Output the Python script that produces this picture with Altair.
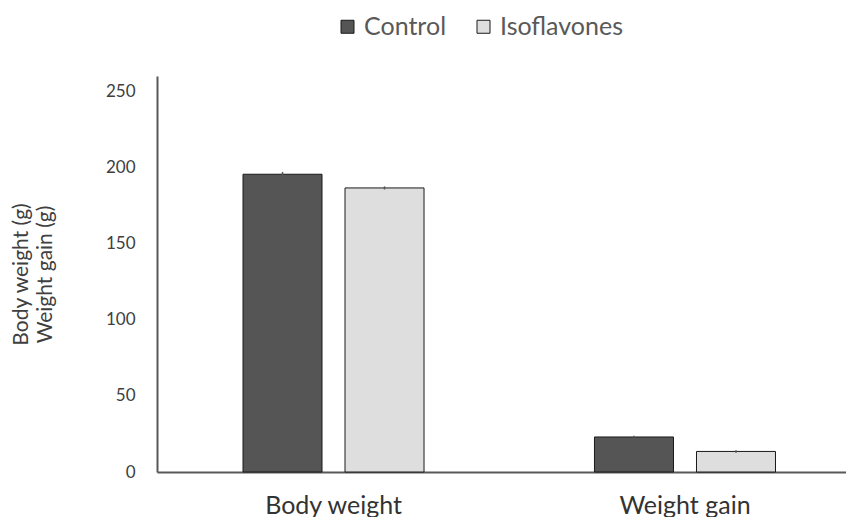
import altair as alt
import pandas as pd

categories = ["Body weight", "Body weight", "Weight gain", "Weight gain"]
groups = ["Control", "Isoflavones", "Control", "Isoflavones"]
values = [195.5, 186.5, 23.0, 13.5]
errors = [1.5, 1.0, 0.8, 0.8]
y_ticks = [0, 50, 100, 150, 200, 250]

df = pd.DataFrame({
    "category": categories,
    "group": groups,
    "value": values,
    "low": [v - e for v, e in zip(values, errors)],
    "high": [v + e for v, e in zip(values, errors)],
})

FONT = "Lato"
xenc = alt.X("category:N", title=None,
             scale=alt.Scale(range=[0, 704.5], paddingInner=0.485, paddingOuter=0.2447),
             axis=alt.Axis(labelAngle=0, labelFontSize=25, labelColor="#333333",
                           labelPadding=21, ticks=False, domainColor="#595959",
                           domainWidth=2, labelFont=FONT))
xoff = alt.XOffset("group:N", scale=alt.Scale(paddingInner=0.2255, paddingOuter=0))

bars = alt.Chart(df).mark_bar(stroke="#1a1a1a", strokeWidth=1).encode(
    x=xenc,
    xOffset=xoff,
    y=alt.Y("value:Q", title=["Body weight (g)", "Weight gain (g)"],
            scale=alt.Scale(domain=[0, 250]),
            axis=alt.Axis(values=y_ticks, ticks=False,
                          grid=False, labelFontSize=17, labelColor="#404040",
                          labelPadding=22, domainColor="#595959", domainWidth=2,
                          titleFontSize=21, titleFontWeight="normal",
                          titleColor="#404040", titlePadding=50, titleLineHeight=24,
                          labelFont=FONT, titleFont=FONT)),
    fill=alt.Fill("group:N", title=None,
                  scale=alt.Scale(domain=["Control", "Isoflavones"],
                                  range=["#555555", "#dedede"]),
                  legend=alt.Legend(orient="none", legendX=178, legendY=-62,
                                    direction="horizontal",
                                    symbolType="square", symbolSize=169,
                                    symbolStrokeColor="#1a1a1a", symbolStrokeWidth=1,
                                    labelFontSize=25, labelColor="#595959",
                                    labelFont=FONT, columnPadding=24, labelOffset=4)),
)

err = alt.Chart(df).mark_rule(color="#555555", strokeWidth=1.5).encode(
    x=alt.X("category:N"),
    xOffset=xoff,
    y="low:Q",
    y2="high:Q",
)

chart = alt.layer(bars, err).properties(
    width=689, height=396,
    autosize=alt.AutoSizeParams(type="none"),
    padding={"left": 149, "top": 68, "right": 0, "bottom": 45},
).configure(font=FONT, background="white").configure_view(stroke=None)

chart.save("out.html", embed_options={"renderer": "svg", "actions": False})
